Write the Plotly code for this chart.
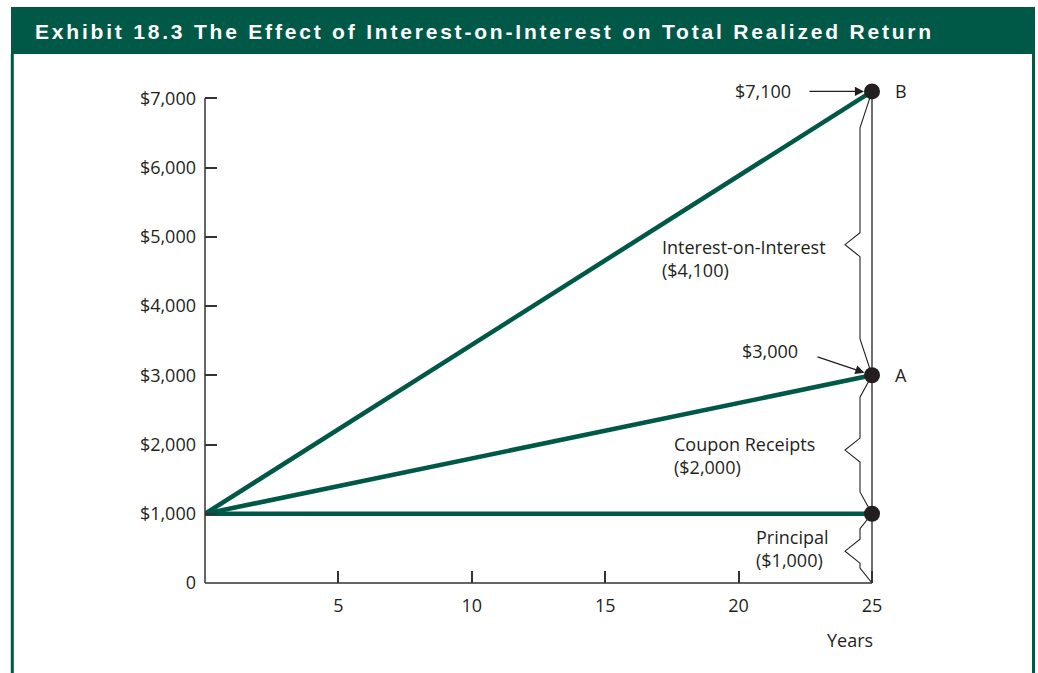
import plotly.graph_objects as go

# ---------------- data ----------------
years = [0, 25]
line_b = [1000, 7100]   # principal + coupons + interest-on-interest
line_a = [1000, 3000]   # principal + coupons
line_p = [1000, 1000]   # principal only
end_values = [7100, 3000, 1000]
point_labels = ["B", "A", ""]

y_ticks = [0, 1000, 2000, 3000, 4000, 5000, 6000, 7000]
y_tick_text = ["0", "$1,000", "$2,000", "$3,000", "$4,000", "$5,000", "$6,000", "$7,000"]
x_ticks = [5, 10, 15, 20, 25]
x_tick_text = ["5", "10", "15", "20", "25"]

brace_ranges = [(3000, 7100), (1000, 3000), (0, 1000)]
brace_labels = ["Interest-on-Interest<br>($4,100)", "Coupon Receipts<br>($2,000)", "Principal<br>($1,000)"]

title = "Exhibit 18.3 The Effect of Interest-on-Interest on Total Realized Return"

# ---------------- style ----------------
GREEN = "#005846"
INK = "#231f20"
AX = "#333333"
FONT = "Open Sans"
W, H = 1038, 673
L, R, T, B = 205, 158, 81, 90
XMAX, YMAX = 25.3, 7250
PW, PH = W - L - R, H - T - B
px_x = PW / XMAX       # pixels per x unit
px_y = PH / YMAX       # pixels per y unit


def paper_x(px):
    return (px - L) / PW


def paper_y(py):
    return (H - B - py) / PH


fig = go.Figure()

for ys in (line_b, line_a, line_p):
    fig.add_trace(go.Scatter(x=years, y=ys, mode="lines",
                             line=dict(color=GREEN, width=4.5), hoverinfo="skip"))

# vertical line at the horizon
xe = years[-1]
fig.add_trace(go.Scatter(x=[xe, xe], y=[0, max(end_values)], mode="lines",
                         line=dict(color=INK, width=1.3), hoverinfo="skip"))

# braces
indent = 12 / px_x
depth = 27 / px_x
half = 12 / px_y
for lo, hi in brace_ranges:
    span = hi - lo
    diag = 8 / px_y + 0.1 * span
    tip = lo + 0.46 * span
    bx = [xe, xe - indent, xe - indent, xe - depth, xe - indent, xe - indent, xe]
    by = [hi, hi - diag, tip + half, tip, tip - half, lo + diag, lo]
    fig.add_trace(go.Scatter(x=bx, y=by, mode="lines",
                             line=dict(color=INK, width=1.1), hoverinfo="skip"))

# end points
fig.add_trace(go.Scatter(x=[xe] * len(end_values), y=end_values, mode="markers",
                         marker=dict(color=INK, size=16), cliponaxis=False, hoverinfo="skip"))

ann = []
tf = dict(family=FONT, size=18, color=INK)
# point letters
for v, lab in zip(end_values, point_labels):
    if lab:
        ann.append(dict(x=xe, y=v, xref="x", yref="y", text=lab, showarrow=False,
                        xshift=29, font=tf))
# value callouts
ann.append(dict(x=xe, y=end_values[0], text="$7,100", showarrow=False, xanchor="right",
                xshift=-79, font=tf))
ann.append(dict(x=xe, y=end_values[0], text="", showarrow=True, ax=-64, ay=0,
                arrowhead=2, arrowsize=1.4, arrowwidth=1.3, arrowcolor=INK, standoff=8))
ann.append(dict(x=xe, y=end_values[1], text="$3,000", showarrow=False, xanchor="right",
                xshift=-72, yshift=24, font=tf))
ann.append(dict(x=xe, y=end_values[1], text="", showarrow=True, ax=-56, ay=-19,
                arrowhead=2, arrowsize=1.4, arrowwidth=1.3, arrowcolor=INK, standoff=8))
# brace labels (dx, dy: pixel offset right / down from the brace tip)
label_shift = [(-212, 14), (-200, 5), (-118, -3)]
for (lo, hi), lab, (dx, dy) in zip(brace_ranges, brace_labels, label_shift):
    tip = lo + 0.46 * (hi - lo)
    ann.append(dict(x=xe, y=tip, text=lab, showarrow=False, xanchor="left", align="left",
                    xshift=dx, yshift=-dy, font=tf))
# axis title
ann.append(dict(x=xe, y=0, text="Years", showarrow=False, xshift=-22, yshift=-57, font=tf))
# banner title
ann.append(dict(x=paper_x(33), y=paper_y(31), xref="paper", yref="paper",
                text='<span style="letter-spacing:2.8px">' + title + "</span>",
                showarrow=False, xanchor="left", yanchor="middle",
                font=dict(family="Liberation Sans", size=21, color="white", weight="bold")))

shapes = [
    # banner
    dict(type="rect", xref="paper", yref="paper", x0=paper_x(11), x1=paper_x(1035),
         y0=paper_y(54), y1=paper_y(7), fillcolor=GREEN, line=dict(width=0), layer="below"),
    # frame sides
    dict(type="line", xref="paper", yref="paper", x0=paper_x(12.3), x1=paper_x(12.3),
         y0=paper_y(54), y1=paper_y(H), line=dict(color=GREEN, width=3)),
    dict(type="line", xref="paper", yref="paper", x0=paper_x(1033.5), x1=paper_x(1033.5),
         y0=paper_y(54), y1=paper_y(H), line=dict(color=GREEN, width=3)),
    # axis lines
    dict(type="line", xref="paper", yref="y", x0=0, x1=0, y0=0, y1=y_ticks[-1],
         line=dict(color=AX, width=1.5)),
    dict(type="line", xref="x", yref="paper", x0=0, x1=x_ticks[-1], y0=0, y1=0,
         line=dict(color=AX, width=1.5)),
]

fig.update_layout(
    width=W, height=H, margin=dict(l=L, r=R, t=T, b=B),
    paper_bgcolor="white", plot_bgcolor="white", showlegend=False,
    annotations=ann, shapes=shapes,
    xaxis=dict(range=[0, XMAX], tickvals=x_ticks, ticktext=x_tick_text, ticks="inside",
               ticklen=12, tickwidth=1.5, tickcolor=AX, showgrid=False, zeroline=False,
               showline=False, tickfont=tf, ticklabelstandoff=10, fixedrange=True),
    yaxis=dict(range=[0, YMAX], tickvals=y_ticks, ticktext=y_tick_text, ticks="inside",
               ticklen=12, tickwidth=1.5, tickcolor=AX, showgrid=False, zeroline=False,
               showline=False, tickfont=tf, ticklabelstandoff=8, fixedrange=True),
)

fig.write_html("out.html", config={"displayModeBar": False},
               post_script="document.body.style.margin='0px';document.body.style.overflow='hidden';")
